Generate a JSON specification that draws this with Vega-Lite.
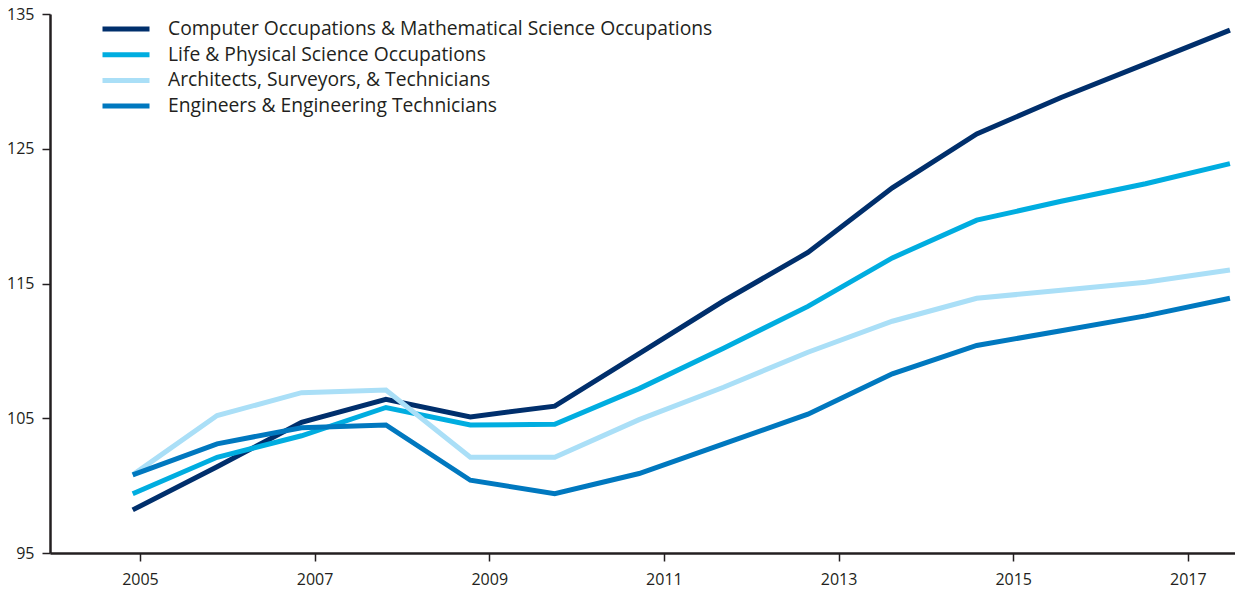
{
  "$schema": "https://vega.github.io/schema/vega-lite/v6.json",
  "width": 1185,
  "height": 539,
  "autosize": {"type": "none"},
  "padding": {"left": 50, "top": 14, "right": 0, "bottom": 42},
  "background": "white",
  "config": {
    "view": {"stroke": null},
    "font": "Open Sans",
    "axis": {"labelFont": "Open Sans", "labelColor": "#231F20", "labelFontSize": 16, "domainColor": "#231F20", "tickColor": "#231F20", "grid": false, "title": null}
  },
  "data": {
    "values": [
      {"year": 2005, "series": "Computer Occupations & Mathematical Science Occupations", "value": 98.2},
      {"year": 2006, "series": "Computer Occupations & Mathematical Science Occupations", "value": 101.4},
      {"year": 2007, "series": "Computer Occupations & Mathematical Science Occupations", "value": 104.7},
      {"year": 2008, "series": "Computer Occupations & Mathematical Science Occupations", "value": 106.4},
      {"year": 2009, "series": "Computer Occupations & Mathematical Science Occupations", "value": 105.1},
      {"year": 2010, "series": "Computer Occupations & Mathematical Science Occupations", "value": 105.9},
      {"year": 2011, "series": "Computer Occupations & Mathematical Science Occupations", "value": 109.8},
      {"year": 2012, "series": "Computer Occupations & Mathematical Science Occupations", "value": 113.7},
      {"year": 2013, "series": "Computer Occupations & Mathematical Science Occupations", "value": 117.3},
      {"year": 2014, "series": "Computer Occupations & Mathematical Science Occupations", "value": 122.1},
      {"year": 2015, "series": "Computer Occupations & Mathematical Science Occupations", "value": 126.1},
      {"year": 2016, "series": "Computer Occupations & Mathematical Science Occupations", "value": 128.8},
      {"year": 2017, "series": "Computer Occupations & Mathematical Science Occupations", "value": 131.3},
      {"year": 2018, "series": "Computer Occupations & Mathematical Science Occupations", "value": 133.8},
      {"year": 2005, "series": "Life & Physical Science Occupations", "value": 99.4},
      {"year": 2006, "series": "Life & Physical Science Occupations", "value": 102.1},
      {"year": 2007, "series": "Life & Physical Science Occupations", "value": 103.7},
      {"year": 2008, "series": "Life & Physical Science Occupations", "value": 105.8},
      {"year": 2009, "series": "Life & Physical Science Occupations", "value": 104.5},
      {"year": 2010, "series": "Life & Physical Science Occupations", "value": 104.55},
      {"year": 2011, "series": "Life & Physical Science Occupations", "value": 107.2},
      {"year": 2012, "series": "Life & Physical Science Occupations", "value": 110.2},
      {"year": 2013, "series": "Life & Physical Science Occupations", "value": 113.3},
      {"year": 2014, "series": "Life & Physical Science Occupations", "value": 116.9},
      {"year": 2015, "series": "Life & Physical Science Occupations", "value": 119.7},
      {"year": 2016, "series": "Life & Physical Science Occupations", "value": 121.1},
      {"year": 2017, "series": "Life & Physical Science Occupations", "value": 122.4},
      {"year": 2018, "series": "Life & Physical Science Occupations", "value": 123.9},
      {"year": 2005, "series": "Architects, Surveyors, & Technicians", "value": 100.8},
      {"year": 2006, "series": "Architects, Surveyors, & Technicians", "value": 105.2},
      {"year": 2007, "series": "Architects, Surveyors, & Technicians", "value": 106.9},
      {"year": 2008, "series": "Architects, Surveyors, & Technicians", "value": 107.1},
      {"year": 2009, "series": "Architects, Surveyors, & Technicians", "value": 102.1},
      {"year": 2010, "series": "Architects, Surveyors, & Technicians", "value": 102.1},
      {"year": 2011, "series": "Architects, Surveyors, & Technicians", "value": 104.9},
      {"year": 2012, "series": "Architects, Surveyors, & Technicians", "value": 107.3},
      {"year": 2013, "series": "Architects, Surveyors, & Technicians", "value": 109.9},
      {"year": 2014, "series": "Architects, Surveyors, & Technicians", "value": 112.2},
      {"year": 2015, "series": "Architects, Surveyors, & Technicians", "value": 113.9},
      {"year": 2016, "series": "Architects, Surveyors, & Technicians", "value": 114.5},
      {"year": 2017, "series": "Architects, Surveyors, & Technicians", "value": 115.1},
      {"year": 2018, "series": "Architects, Surveyors, & Technicians", "value": 116.0},
      {"year": 2005, "series": "Engineers & Engineering Technicians", "value": 100.8},
      {"year": 2006, "series": "Engineers & Engineering Technicians", "value": 103.1},
      {"year": 2007, "series": "Engineers & Engineering Technicians", "value": 104.3},
      {"year": 2008, "series": "Engineers & Engineering Technicians", "value": 104.5},
      {"year": 2009, "series": "Engineers & Engineering Technicians", "value": 100.4},
      {"year": 2010, "series": "Engineers & Engineering Technicians", "value": 99.4},
      {"year": 2011, "series": "Engineers & Engineering Technicians", "value": 100.9},
      {"year": 2012, "series": "Engineers & Engineering Technicians", "value": 103.1},
      {"year": 2013, "series": "Engineers & Engineering Technicians", "value": 105.3},
      {"year": 2014, "series": "Engineers & Engineering Technicians", "value": 108.3},
      {"year": 2015, "series": "Engineers & Engineering Technicians", "value": 110.4},
      {"year": 2016, "series": "Engineers & Engineering Technicians", "value": 111.5},
      {"year": 2017, "series": "Engineers & Engineering Technicians", "value": 112.6},
      {"year": 2018, "series": "Engineers & Engineering Technicians", "value": 113.9}
    ]
  },
  "encoding": {
    "y": {
      "field": "value",
      "type": "quantitative",
      "scale": {"domain": [95, 135], "nice": false, "zero": false},
      "axis": {"values": [95, 105, 115, 125, 135], "tickSize": 8, "tickWidth": 1.5, "domainWidth": 2.5, "labelPadding": 8}
    }
  },
  "layer": [
    {
      "mark": {"type": "line", "strokeWidth": 5, "clip": false},
      "encoding": {
        "x": {"field": "year", "type": "quantitative", "scale": {"domain": [2004.02, 2018.06], "nice": false, "zero": false}, "axis": null},
        "color": {
          "field": "series",
          "type": "nominal",
          "sort": null,
          "scale": {
            "domain": ["Computer Occupations & Mathematical Science Occupations", "Life & Physical Science Occupations", "Architects, Surveyors, & Technicians", "Engineers & Engineering Technicians"],
            "range": ["#002F6C", "#00ADE0", "#AADFF7", "#0078BF"]
          },
          "legend": {
            "title": null,
            "orient": "none",
            "legendX": 50,
            "legendY": 5,
            "symbolType": "stroke",
            "symbolSize": 2209,
            "symbolStrokeWidth": 5,
            "clipHeight": 20,
            "labelFontSize": 19.3,
            "labelFont": "Open Sans",
            "labelColor": "#231F20",
            "labelOffset": 16,
            "rowPadding": 4.7,
            "padding": 0,
            "labelLimit": 800
          }
        }
      }
    },
    {
      "mark": {"type": "point", "opacity": 0, "clip": true},
      "encoding": {
        "x": {
          "field": "year",
          "type": "quantitative",
          "scale": {"domain": [2003.97, 2017.54], "nice": false, "zero": false},
          "axis": {"orient": "bottom", "values": [2005, 2007, 2009, 2011, 2013, 2015, 2017], "format": "d", "tickSize": 8, "tickWidth": 1.5, "domainWidth": 2.5, "labelPadding": 10}
        }
      }
    }
  ],
  "resolve": {"scale": {"x": "independent"}}
}
